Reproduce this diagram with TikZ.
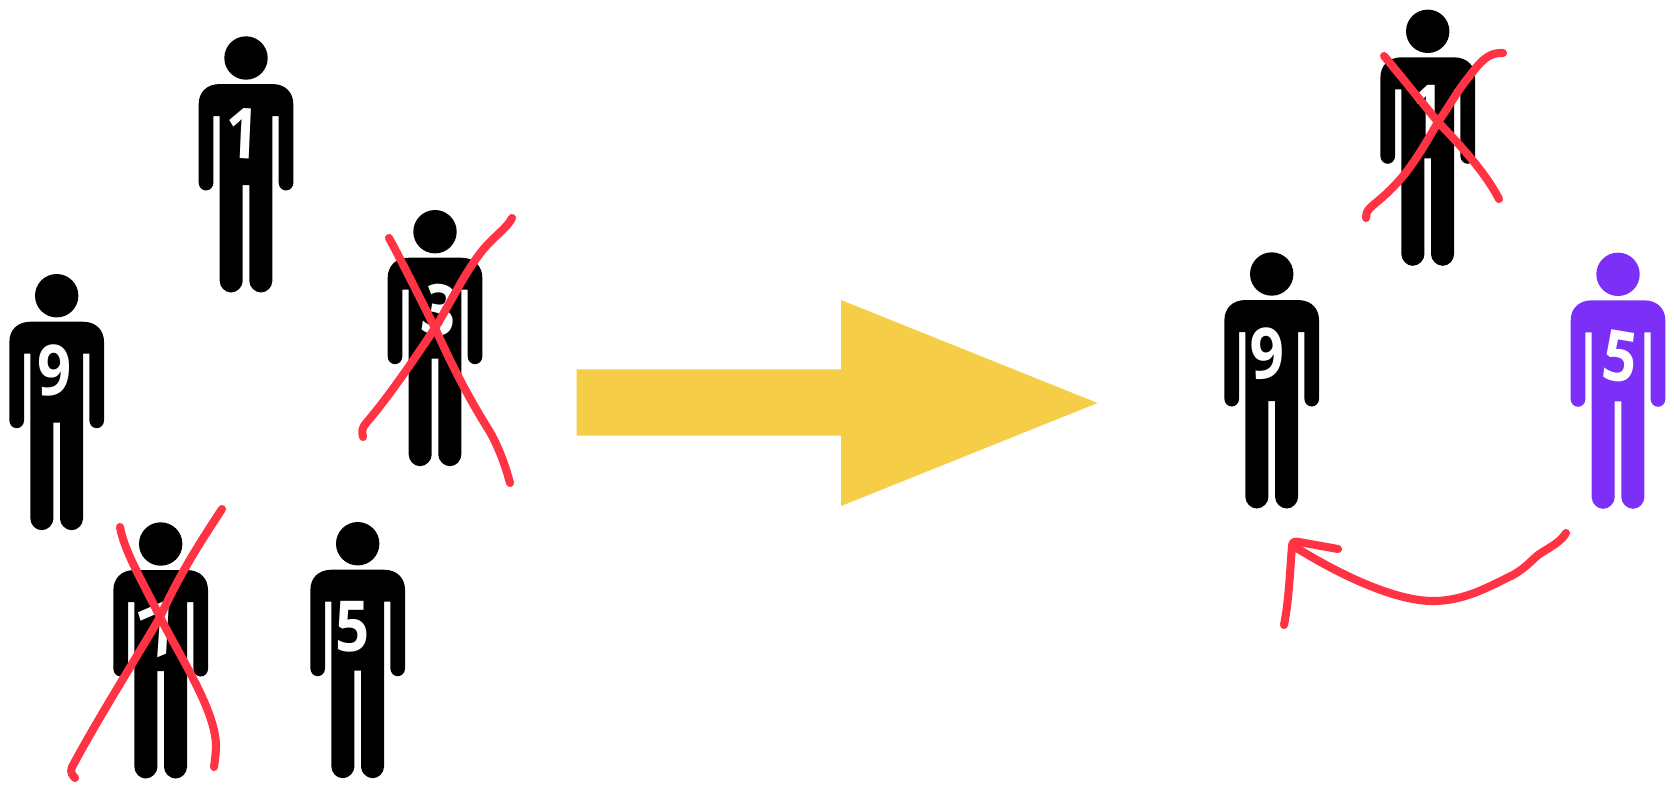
\documentclass[tikz,border=0pt]{standalone}
\usepackage{fontspec}
\setmainfont{Open Sans}
\definecolor{inkred}{HTML}{FF3344}
\definecolor{arrowyellow}{HTML}{F5CD47}
\definecolor{plum}{HTML}{7B2FF7}
\tikzset{
  person/.pic={
    \fill[pic actions] (0,0) circle[radius=21.7];
    \fill[pic actions] (-47.3,46) -- (-47.3,125)
      .. controls (-47.3,129) and (-44,132.5) .. (-40,132.5)
      .. controls (-36,132.5) and (-32.7,129) .. (-32.7,125)
      -- (-32.7,58) -- (-26.3,58) -- (-26.3,223)
      .. controls (-26.3,229) and (-21,234.5) .. (-15,234.5)
      .. controls (-9,234.5) and (-3.3,229) .. (-3.3,223)
      -- (-3.3,127) -- (3.3,127) -- (3.3,223)
      .. controls (3.3,229) and (9,234.5) .. (15,234.5)
      .. controls (21,234.5) and (26.3,229) .. (26.3,223)
      -- (26.3,58) -- (32.7,58) -- (32.7,125)
      .. controls (32.7,129) and (36,132.5) .. (40,132.5)
      .. controls (44,132.5) and (47.3,129) .. (47.3,125)
      -- (47.3,46)
      .. controls (47.3,35) and (40,26) .. (26,26)
      -- (-26,26)
      .. controls (-40,26) and (-47.3,35) .. (-47.3,46) -- cycle;
  },
  numlabel/.style={text=white, inner sep=0pt, xscale=0.85, transform shape,
    font=\fontsize{20}{20}\selectfont\bfseries},
  inkline/.style={draw=inkred, line width=2.3pt, line cap=round, line join=round}
}
\begin{document}
\begin{tikzpicture}[x=0.1mm, y=-0.1mm]
\useasboundingbox (0,0) rectangle (1674,787);

% ── Left group ────────────────────────────────────────────────
\pic[fill=black] at (246,58)    {person};
\pic[fill=black] at (435,231.7) {person};
\pic[fill=black] at (56.7,295.7) {person};
\pic[fill=black] at (160.7,544) {person};
\pic[fill=black] at (357.7,543.7) {person};

\node[numlabel, rotate=-3]  (leftone)   at (243,133) {1};
\node[numlabel, rotate=-10] (leftthree) at (440,310) {3};
\node[numlabel]             (leftnine)  at (55,370)  {9};
\node[numlabel, rotate=20]  (leftseven) at (160,630) {7};
\node[numlabel]             (leftfive)  at (353,627) {5};

% ── Crosses on the left ───────────────────────────────────────
\draw[inkline] (389,238) .. controls (400,258) and (420,298) .. (435,328)
  .. controls (455,372) and (470,400) .. (490,432)
  .. controls (500,450) and (506,468) .. (510,483);
\draw[inkline] (512,218) .. controls (508,226) and (500,232) .. (490,242)
  .. controls (470,262) and (455,295) .. (435,328)
  .. controls (415,358) and (390,395) .. (367,422)
  .. controls (361,429) and (362,431) .. (363,437);
\draw[inkline] (120,527) .. controls (124,550) and (140,577) .. (160,617)
  .. controls (182,660) and (215,710) .. (216,745)
  .. controls (216,752) and (215,760) .. (214,767);
\draw[inkline] (222,509) .. controls (195,550) and (178,578) .. (160,617)
  .. controls (135,660) and (100,715) .. (72,767)
  .. controls (70,772) and (72,775) .. (75,778);

% ── Big arrow ─────────────────────────────────────────────────
\fill[arrowyellow] (576.5,369.4) -- (841,369.4) -- (841,300) -- (1097.5,403)
  -- (841,506) -- (841,435.6) -- (576.5,435.6) -- cycle;

% ── Right group ───────────────────────────────────────────────
\pic[fill=black] at (1427.7,31.3) {person};
\pic[fill=black] at (1271.7,274)  {person};
\pic[fill=plum]  at (1618,274.3)  {person};

\node[numlabel]            (rightone)  at (1428,110) {1};
\node[numlabel, rotate=3]  (rightnine) at (1267,353) {9};
\node[numlabel, rotate=-8] (rightfive) at (1620,357) {5};

% ── Cross and curved arrow on the right ───────────────────────
\draw[inkline] (1384,56) .. controls (1400,75) and (1420,100) .. (1438,122)
  .. controls (1460,145) and (1485,172) .. (1499,199);
\draw[inkline] (1503,53) .. controls (1488,52) and (1480,62) .. (1468,78)
  .. controls (1458,90) and (1450,105) .. (1438,122)
  .. controls (1425,145) and (1410,170) .. (1395,185)
  .. controls (1385,196) and (1375,203) .. (1370,208)
  .. controls (1366,212) and (1366,215) .. (1366,218);
\draw[inkline] (1566,533) .. controls (1560,543) and (1548,548) .. (1538,555)
  .. controls (1530,562) and (1525,568) .. (1513,575)
  .. controls (1490,586) and (1465,601) .. (1433,601)
  .. controls (1395,601) and (1340,575) .. (1295,547);
\draw[inkline] (1284,625) .. controls (1289,600) and (1290,570) .. (1292,546)
  .. controls (1292,542) and (1295,541) .. (1299,542) -- (1338,549);

\end{tikzpicture}
\end{document}
